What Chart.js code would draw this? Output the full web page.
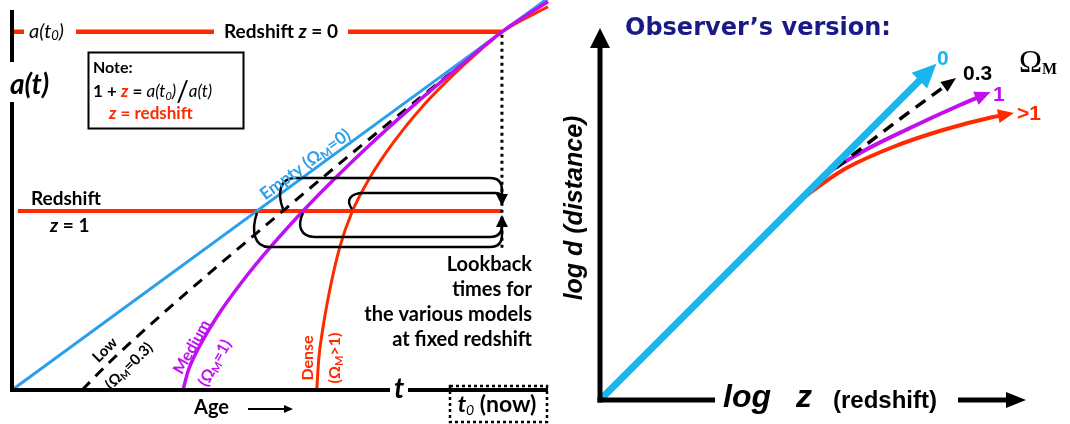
<!DOCTYPE html>
<html lang="en">
<head>
<meta charset="UTF-8">
<title>Scale factor vs age / Observer's version</title>
<script src="https://cdn.jsdelivr.net/npm/chart.js"></script>
<style>
  body { margin: 0; background: #fff; }
  #wrap { position: relative; width: 1070px; height: 424px; }
  canvas { position: absolute; top: 0; }
</style>
</head>
<body>
<div id="wrap">
  <canvas id="ageChart" width="560" height="424" style="left:0"></canvas>
  <canvas id="obsChart" width="510" height="424" style="left:560px"></canvas>
</div>
<script>
// ---- left panel: a(t) against age t, normalised so t0 = 1 and a(t0) = 1
const emptyT  = [0, 1, 1.094];
const emptyA  = [0, 1, 1.094];
const lowT    = [0.143, 0.200, 0.300, 0.400, 0.553, 0.700, 0.850, 1];
const lowA    = [0, 0.079, 0.204, 0.323, 0.500, 0.668, 0.835, 1];
const mediumT = [0.349, 0.360, 0.380, 0.420, 0.470, 0.530, 0.594, 0.660, 0.730, 0.800, 0.870, 0.940, 1, 1.094];
const mediumA = [0, 0.055, 0.115, 0.208, 0.303, 0.403, 0.500, 0.592, 0.684, 0.771, 0.854, 0.934, 1, 1.085];
const denseT  = [0.622, 0.626, 0.633, 0.645, 0.669, 0.694, 0.730, 0.780, 0.840, 0.900, 0.950, 1, 1.094];
const denseA  = [0, 0.085, 0.159, 0.255, 0.399, 0.497, 0.592, 0.694, 0.795, 0.879, 0.942, 1, 1.070];
const z0T = [0, 1],     z0A = [1, 1];       // redshift z = 0  (a = a(t0))
const z1T = [0.012, 1], z1A = [0.5, 0.5];   // redshift z = 1  (a = a(t0)/2)
// where each model crosses z = 1 (start of the lookback arrows): empty, low, medium, dense
const lookbackT = [0.500, 0.553, 0.594, 0.694];

// ---- right panel: log d against log z
const obsEmptyX  = [0, 2.0, 3.30];
const obsEmptyY  = [0, 2.0, 3.30];
const obsLowX    = [2.2, 2.5, 3.0, 3.52];
const obsLowY    = [2.2, 2.43, 2.81, 3.19];
const obsMediumX = [2.05, 2.27, 2.6, 3.1, 3.6, 3.86];
const obsMediumY = [2.05, 2.26, 2.47, 2.72, 2.95, 3.06];
const obsDenseX  = [2.0, 2.43, 2.93, 3.43, 3.93, 4.09];
const obsDenseY  = [2.0, 2.30, 2.53, 2.70, 2.83, 2.86];
const obsLabels  = ['0', '0.3', '1', '>1'];

const RED = '#ff2a00', BLUE = '#2b9fea', PURPLE = '#c010f0', CYAN = '#18b6ec', NAVY = '#1a1a86';
const LATO = 'Lato, "Noto Sans", "DejaVu Sans", sans-serif';
const ARIAL = '"Liberation Sans", Arial, sans-serif';

const pts = (xs, ys) => xs.map((x, i) => ({ x: x, y: ys[i] }));
function line(xs, ys, color, width, dash) {
  return {
    data: pts(xs, ys), showLine: true, borderColor: color, borderWidth: width,
    borderDash: dash || [], pointRadius: 0, fill: false, clip: false,
    cubicInterpolationMode: 'monotone'
  };
}

// draw a run of text pieces [text, font, color, dy]
function rich(ctx, parts, x, y, align, angle) {
  ctx.save();
  ctx.translate(x, y);
  ctx.rotate(angle || 0);
  ctx.textAlign = 'left';
  ctx.textBaseline = 'middle';
  let w = 0;
  parts.forEach(p => { ctx.font = p[1]; w += ctx.measureText(p[0]).width; });
  let cx = align === 'center' ? -w / 2 : align === 'right' ? -w : 0;
  parts.forEach(p => {
    ctx.font = p[1];
    ctx.fillStyle = p[2] || '#000';
    ctx.fillText(p[0], cx, p[3] || 0);
    cx += ctx.measureText(p[0]).width;
  });
  ctx.restore();
}

function seg(ctx, x1, y1, x2, y2) {
  ctx.beginPath(); ctx.moveTo(x1, y1); ctx.lineTo(x2, y2); ctx.stroke();
}

function head(ctx, tx, ty, dx, dy, len, half, color) {
  const n = Math.hypot(dx, dy); dx /= n; dy /= n;
  ctx.fillStyle = color;
  ctx.beginPath();
  ctx.moveTo(tx, ty);
  ctx.lineTo(tx - dx * len - dy * half, ty - dy * len + dx * half);
  ctx.lineTo(tx - dx * len + dy * half, ty - dy * len - dx * half);
  ctx.closePath();
  ctx.fill();
}

const agePlugin = {
  id: 'ageDecor',
  afterDatasetsDraw(chart) {
    const ctx = chart.ctx, xs = chart.scales.x, ys = chart.scales.y;
    const X = v => xs.getPixelForValue(v), Y = v => ys.getPixelForValue(v);
    const x0 = X(0), yb = Y(0), xt0 = X(1), ya0 = Y(1), ya1 = Y(0.5);
    ctx.save();

    // axes
    ctx.strokeStyle = '#000'; ctx.lineWidth = 4;
    seg(ctx, x0, 10, x0, 62);
    seg(ctx, x0, 102, x0, yb + 2);
    seg(ctx, x0 - 2, yb, 390, yb);
    seg(ctx, 408, yb, chart.chartArea.right, yb);

    // now: dotted drop line and dotted box
    ctx.lineWidth = 3; ctx.setLineDash([3, 4]);
    seg(ctx, xt0, ya0 + 3, xt0, 250);
    ctx.lineWidth = 2.5; ctx.setLineDash([3, 3]);
    ctx.strokeRect(450, 386, 97, 36);
    ctx.setLineDash([]);

    // lookback arrows from each z = 1 crossing to t0
    const loops = [[lookbackT[0], 1, 36], [lookbackT[1], -1, 33], [lookbackT[2], 1, 26], [lookbackT[3], -1, 18]];
    ctx.lineWidth = 2.5; ctx.strokeStyle = '#000';
    loops.forEach(l => {
      const sx = X(l[0]), s = l[1], hy = ya1 + s * l[2], r = Math.min(12, l[2] - 12);
      ctx.beginPath();
      ctx.moveTo(sx, ya1 + s * 2);
      ctx.bezierCurveTo(sx - 6, ya1 + s * l[2] * 0.55, sx - 3, hy, sx + 12, hy);
      ctx.lineTo(xt0 - r, hy);
      ctx.quadraticCurveTo(xt0, hy, xt0, hy - s * r);
      ctx.lineTo(xt0, ya1 + s * 10);
      ctx.stroke();
    });
    head(ctx, xt0, ya1 - 5, 0, 1, 12, 6, '#000');
    head(ctx, xt0, ya1 + 4, 0, -1, 12, 6, '#000');

    // z = 0 line labels (gaps in the red line)
    ctx.fillStyle = '#fff';
    ctx.fillRect(24, 18, 52, 28);
    ctx.fillRect(214, 18, 134, 28);
    rich(ctx, [['a(t', 'italic 20px ' + LATO], ['0', 'italic 13px ' + LATO, '#000', 4], [')', 'italic 20px ' + LATO]], 29, 32, 'left');
    rich(ctx, [['Redshift ', 'bold 19px ' + LATO], ['z', 'italic bold 19px ' + LATO], [' = 0', 'bold 19px ' + LATO]], 281, 32, 'center');

    // a(t) axis title
    rich(ctx, [['a(t)', 'italic bold 28px ' + LATO]], 10, 85, 'left');

    // note box
    ctx.fillStyle = '#fff'; ctx.fillRect(88, 52, 155, 76);
    ctx.lineWidth = 2; ctx.strokeStyle = '#000';
    ctx.strokeRect(88.5, 52.5, 155, 76);
    rich(ctx, [['Note:', 'bold 16px ' + LATO]], 93, 68, 'left');
    rich(ctx, [
      ['1 + ', 'bold 17px ' + LATO], ['z', 'italic bold 17px ' + LATO, RED], [' = ', 'bold 17px ' + LATO],
      ['a(t', 'italic 17px ' + LATO], ['0', 'italic 11px ' + LATO, '#000', 4], [')', 'italic 17px ' + LATO],
      ['/', '28px ' + LATO], ['a(t)', 'italic 17px ' + LATO]
    ], 93, 92, 'left');
    rich(ctx, [['z', 'italic bold 17px ' + LATO, RED], [' = redshift', 'bold 17px ' + LATO, RED]], 109, 114, 'left');

    // z = 1 label
    rich(ctx, [['Redshift', 'bold 19px ' + LATO]], 31, 199, 'left');
    rich(ctx, [['z', 'italic bold 19px ' + LATO], [' = 1', 'bold 19px ' + LATO]], 50, 226, 'left');

    // curve labels
    const blueAng = Math.atan2(Y(1) - Y(0), X(1) - X(0));
    const om = (c, size, rest) => [['(Ω', 'bold ' + size + 'px ' + LATO, c], ['M', 'bold ' + (size - 5) + 'px ' + LATO, c, 4], [rest, 'bold ' + size + 'px ' + LATO, c]];
    rich(ctx, [['Empty ', 'bold 17px ' + LATO, BLUE]].concat(om(BLUE, 17, '=0)')), 262, 196, 'left', blueAng);
    rich(ctx, [['Low', 'bold 15px ' + LATO]], 105, 350, 'center', -0.78);
    rich(ctx, om('#000', 15, '=0.3)'), 129, 366, 'center', -0.78);
    rich(ctx, [['Medium', 'bold 16px ' + LATO, PURPLE]], 192, 347, 'center', -1.06);
    rich(ctx, om(PURPLE, 16, '=1)'), 215, 363, 'center', -1.06);
    rich(ctx, [['Dense', 'bold 16px ' + LATO, RED]], 308, 358, 'center', -Math.PI / 2);
    rich(ctx, om(RED, 16, '>1)'), 335, 358, 'center', -Math.PI / 2);

    // lookback caption
    const lb = ['Lookback', 'times for', 'the various models', 'at fixed redshift'];
    lb.forEach((s, i) => rich(ctx, [[s, 'bold 20px ' + LATO]], 532, 265 + i * 25, 'right'));

    // t axis labels
    rich(ctx, [['t', 'italic bold 28px ' + LATO]], 399, yb - 1, 'center');
    rich(ctx, [['Age', 'bold 20px ' + LATO]], 194, 408, 'left');
    ctx.lineWidth = 2; ctx.strokeStyle = '#000';
    seg(ctx, 248, 409, 285, 409);
    head(ctx, 293, 409, 1, 0, 9, 4, '#000');
    rich(ctx, [['t', 'italic bold 23px ' + LATO], ['0', 'italic 14px ' + LATO, '#000', 5], [' (now)', 'bold 23px ' + LATO]], 497, 405, 'center');

    ctx.restore();
  }
};

new Chart(document.getElementById('ageChart'), {
  type: 'scatter',
  data: {
    datasets: [
      line(mediumT, mediumA, PURPLE, 3.5),
      line(denseT, denseA, RED, 3),
      line(emptyT, emptyA, BLUE, 3),
      line(lowT, lowA, '#000', 3, [11, 8]),
      line(z0T, z0A, RED, 4.5),
      line(z1T, z1A, RED, 4)
    ]
  },
  options: {
    responsive: false, animation: false, events: [],
    layout: { padding: { left: 12, right: 12, top: 0, bottom: 34 } },
    scales: {
      x: { type: 'linear', min: 0, max: 1.094, display: false },
      y: { type: 'linear', min: 0, max: 1.089, display: false }
    },
    plugins: { legend: { display: false }, tooltip: { enabled: false } }
  },
  plugins: [agePlugin]
});

const obsPlugin = {
  id: 'obsDecor',
  afterDatasetsDraw(chart) {
    const ctx = chart.ctx, xs = chart.scales.x, ys = chart.scales.y;
    const ox = xs.getPixelForValue(0), oy = ys.getPixelForValue(0);
    ctx.save();

    // arrow heads on each model line
    const heads = [[CYAN, 24, 11, 9], ['#000', 15, 6, 5], [PURPLE, 16, 7, 5], [RED, 16, 7, 5]];
    chart.data.datasets.forEach((d, i) => {
      const el = chart.getDatasetMeta(i).data, a = el[el.length - 2], b = el[el.length - 1];
      const dx = b.x - a.x, dy = b.y - a.y, n = Math.hypot(dx, dy), h = heads[i];
      head(ctx, b.x + dx / n * h[3], b.y + dy / n * h[3], dx, dy, h[1], h[2], h[0]);
    });

    // axes
    ctx.strokeStyle = '#000'; ctx.lineWidth = 5;
    seg(ctx, ox, oy + 2.5, ox, 46);
    head(ctx, ox, 28, 0, -1, 20, 10, '#000');
    seg(ctx, ox - 2.5, oy, 155, oy);
    seg(ctx, 398, oy, 450, oy);
    head(ctx, 466, oy, 1, 0, 20, 8, '#000');

    rich(ctx, [['log', 'italic bold 32px ' + ARIAL]], 163, oy - 2, 'left');
    rich(ctx, [['z', 'italic bold 32px ' + ARIAL]], 236, oy - 2, 'left');
    rich(ctx, [['(redshift)', 'bold 24px ' + ARIAL]], 273, oy + 1, 'left');
    rich(ctx, [['log d (distance)', 'italic bold 25px ' + ARIAL]], 15, 208, 'center', -Math.PI / 2);

    rich(ctx, [["Observer\u2019s version:", 'bold 24px "DejaVu Sans", ' + ARIAL, NAVY]], 65, 29, 'left');

    // model labels
    const lab = [[CYAN, 377, 59], ['#000', 403, 74], [PURPLE, 433, 95], [RED, 457, 114]];
    lab.forEach((l, i) => rich(ctx, [[obsLabels[i], 'bold 21px ' + ARIAL, l[0]]], l[1], l[2], 'left'));
    rich(ctx, [['Ω', '31px "Liberation Serif", "DejaVu Serif", serif'], ['M', 'bold 16px "Liberation Serif", serif', '#000', 6]], 459, 64, 'left');

    ctx.restore();
  }
};

new Chart(document.getElementById('obsChart'), {
  type: 'scatter',
  data: {
    datasets: [
      line(obsEmptyX, obsEmptyY, CYAN, 7),
      line(obsLowX, obsLowY, '#000', 3.5, [12, 8]),
      line(obsMediumX, obsMediumY, PURPLE, 4),
      line(obsDenseX, obsDenseY, RED, 4)
    ]
  },
  options: {
    responsive: false, animation: false, events: [],
    layout: { padding: { left: 40, right: 0, top: 0, bottom: 24 } },
    scales: {
      x: { type: 'linear', min: 0, max: 4.7, display: false },
      y: { type: 'linear', min: 0, max: 4.0, display: false }
    },
    plugins: { legend: { display: false }, tooltip: { enabled: false } }
  },
  plugins: [obsPlugin]
});
</script>
</body>
</html>
